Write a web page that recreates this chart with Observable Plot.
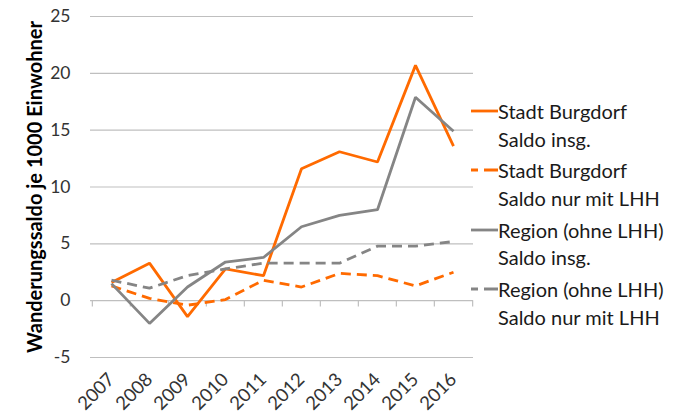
<!DOCTYPE html>
<html>
<head>
<meta charset="utf-8">
<script src="https://cdn.jsdelivr.net/npm/d3@7"></script>
<script src="https://cdn.jsdelivr.net/npm/@observablehq/plot@0.6"></script>
<style>
  body { margin: 0; background: #fff; }
  #wrap { position: relative; width: 675px; height: 416px; font-family: Lato, sans-serif; overflow: hidden; }
  #legend { position: absolute; left: 471px; top: 98px; font-size: 20px; color: #1a1a1a; }
  .entry { position: relative; height: 59.3px; }
  .entry svg { position: absolute; left: 0; top: 0; }
  .entry .txt { position: absolute; left: 27px; top: 0; line-height: 27.7px; white-space: nowrap; }
</style>
</head>
<body>
<div id="wrap"><div id="legend"></div></div>
<script>
const years = ["2007","2008","2009","2010","2011","2012","2013","2014","2015","2016"];
const burgdorfTotal = [1.6, 3.3, -1.4, 2.8, 2.2, 11.6, 13.1, 12.2, 20.7, 13.6];
const burgdorfLHH   = [1.3, 0.2, -0.4, 0.1, 1.8, 1.2, 2.4, 2.2, 1.3, 2.5];
const regionTotal   = [1.5, -2.0, 1.2, 3.4, 3.8, 6.5, 7.5, 8.0, 17.9, 14.9];
const regionLHH     = [1.8, 1.1, 2.2, 2.8, 3.3, 3.3, 3.3, 4.8, 4.8, 5.2];
const yTicks = [-5, 0, 5, 10, 15, 20, 25];
const seriesNames = [
  ["Stadt Burgdorf", "Saldo insg."],
  ["Stadt Burgdorf", "Saldo nur mit LHH"],
  ["Region (ohne LHH)", "Saldo insg."],
  ["Region (ohne LHH)", "Saldo nur mit LHH"]
];
const yTitle = "Wanderungssaldo je 1000 Einwohner";

const ORANGE = "#ff6a00", GRAY = "#858585";
const styles = [
  {stroke: ORANGE, dash: null},
  {stroke: ORANGE, dash: "10,6"},
  {stroke: GRAY, dash: null},
  {stroke: GRAY, dash: "10,6"}
];
const seriesValues = [burgdorfTotal, burgdorfLHH, regionTotal, regionLHH];

const data = [];
seriesValues.forEach((vals, s) => vals.forEach((v, i) => data.push({s, year: years[i], v})));

const lineMarks = styles.map((st, s) =>
  Plot.line(data.filter(d => d.s === s), {
    x: "year", y: "v", stroke: st.stroke, strokeWidth: 2.8,
    strokeDasharray: st.dash, strokeLinejoin: "miter", strokeLinecap: "butt"
  })
);

const chart = Plot.plot({
  width: 675, height: 416,
  marginLeft: 90, marginRight: 202, marginTop: 16, marginBottom: 59,
  style: {fontFamily: "Lato, sans-serif", background: "#fff", overflow: "visible"},
  x: {type: "point", domain: years, padding: 0.5},
  y: {domain: [-5, 25]},
  marks: [
    Plot.ruleY(yTicks, {stroke: "#bfbfbf", strokeWidth: 1.2}),
    Plot.ruleX(years, {x: d => d, y1: 0, y2: -0.55, dx: -19.15, stroke: "#bfbfbf", strokeWidth: 1.2}),
    Plot.ruleX([years[years.length - 1]], {x: d => d, y1: 0, y2: -0.55, dx: 19.15, stroke: "#bfbfbf", strokeWidth: 1.2}),
    Plot.axisY({ticks: yTicks, tickSize: 0, tickPadding: 20, fontSize: 17.5, fill: "#333", label: null, tickFormat: d => String(d)}),
    Plot.axisX({tickSize: 0, tickRotate: -45, tickPadding: 19, dx: 0, fontSize: 18.5, fill: "#333", label: null}),
    Plot.text([yTitle], {frameAnchor: "left", textAnchor: "middle", rotate: -90, dx: -55, fontWeight: "bold", fontSize: 20, fill: "#000"}),
    ...lineMarks
  ]
});
document.getElementById("wrap").prepend(chart);
chart.style.position = "absolute";
chart.style.left = "0"; chart.style.top = "0";

const legend = document.getElementById("legend");
seriesNames.forEach((lines, s) => {
  const e = document.createElement("div");
  e.className = "entry";
  const st = styles[s];
  e.innerHTML = `<svg width="27" height="28"><line x1="0" x2="27" y1="13" y2="13" stroke="${st.stroke}" stroke-width="2.8" ${st.dash ? `stroke-dasharray="7,6,14"` : ""}/></svg><div class="txt">${lines[0]}<br>${lines[1]}</div>`;
  legend.appendChild(e);
});
</script>
</body>
</html>
